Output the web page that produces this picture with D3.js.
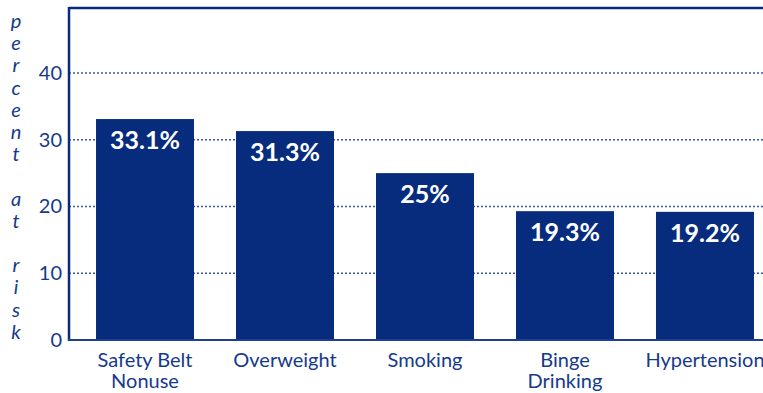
<!DOCTYPE html>
<html><head><meta charset="utf-8">
<script src="https://cdn.jsdelivr.net/npm/d3@7"></script>
<style>body{margin:0;background:#fff}svg{display:block}</style>
</head><body><svg id="c" width="763" height="393"></svg>
<script>
const categories = [["Safety Belt","Nonuse"],["Overweight"],["Smoking"],["Binge","Drinking"],["Hypertension"]];
const values = [33.1, 31.3, 25, 19.3, 19.2];
const valueLabels = ["33.1%","31.3%","25%","19.3%","19.2%"];
const yTicks = [0,10,20,30,40];
const yTitle = ["p","e","r","c","e","n","t","","a","t","","r","i","s","k"];

const W=763,H=393, mLeft=69, mTop=8, mBottom=340;
const barColor="#072c7e", textColor="#153a8b";
const svg=d3.select("#c");
const y=d3.scaleLinear().domain([0,50]).range([mBottom,6.25]);
const x=d3.scaleBand().domain(d3.range(values.length)).range([mLeft,781]).paddingInner(0.3).paddingOuter(0.193);
const font="Lato, 'Open Sans', sans-serif";

// gridlines
const ga=svg.append("g").attr("transform",`translate(${mLeft},0)`)
  .call(d3.axisLeft(y).tickValues(yTicks).tickSize(0).tickPadding(7).tickFormat(d3.format("d")));
ga.select(".domain").remove();
ga.selectAll("text").attr("font-family",font).attr("font-size",20).attr("fill",textColor);
svg.append("g").selectAll("line").data(yTicks.filter(d=>d>0)).join("line")
  .attr("x1",mLeft).attr("x2",W).attr("y1",d=>y(d)).attr("y2",d=>y(d))
  .attr("stroke","#3a57a3").attr("stroke-width",1.3).attr("stroke-dasharray","2,2");

// bars
svg.append("g").selectAll("rect").data(values).join("rect")
  .attr("x",(d,i)=>x(i)).attr("width",x.bandwidth())
  .attr("y",d=>y(d)).attr("height",d=>mBottom-y(d)).attr("fill",barColor);
svg.append("g").selectAll("text").data(values).join("text")
  .attr("x",(d,i)=>x(i)+x.bandwidth()/2).attr("y",d=>y(d)+30)
  .attr("text-anchor","middle").attr("font-family",font).attr("font-weight","bold")
  .attr("font-size",25).attr("fill","#fff").text((d,i)=>valueLabels[i]);

// frame
svg.append("line").attr("x1",mLeft).attr("x2",W).attr("y1",mTop).attr("y2",mTop).attr("stroke",barColor).attr("stroke-width",2.5);
svg.append("line").attr("x1",mLeft).attr("x2",mLeft).attr("y1",mTop-1).attr("y2",mBottom+1).attr("stroke",barColor).attr("stroke-width",2.5);
svg.append("line").attr("x1",mLeft-1).attr("x2",W).attr("y1",mBottom).attr("y2",mBottom).attr("stroke","#1f3f8f").attr("stroke-width",2);

// category labels
const cl=svg.append("g").selectAll("text").data(categories).join("text")
  .attr("x",(d,i)=>x(i)+x.bandwidth()/2).attr("y",367)
  .attr("text-anchor","middle").attr("font-family",font).attr("font-size",20).attr("fill",textColor);
cl.selectAll("tspan").data(d=>d).join("tspan")
  .attr("x",function(){return this.parentNode.getAttribute("x");})
  .attr("dy",(d,i)=>i?20.5:0).text(d=>d);

// y title
svg.append("g").selectAll("text").data(yTitle).join("text")
  .attr("x",16).attr("y",(d,i)=>28+i*22.2).attr("text-anchor","middle")
  .attr("font-family",font).attr("font-style","italic").attr("font-size",20).attr("fill",textColor)
  .text(d=>d);
</script></body></html>
